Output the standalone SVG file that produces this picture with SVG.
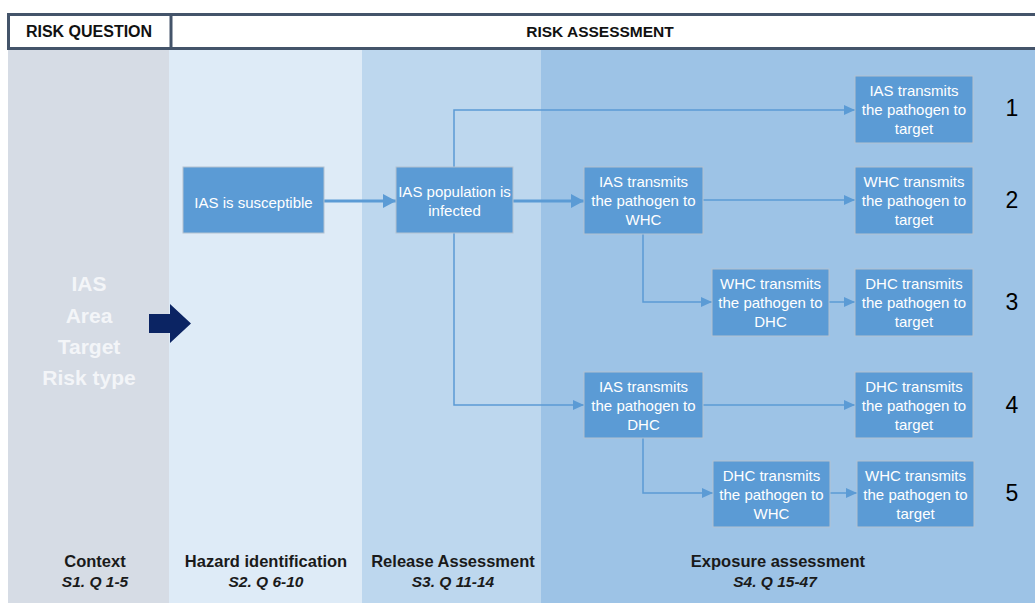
<svg xmlns="http://www.w3.org/2000/svg" width="1035" height="603" viewBox="0 0 1035 603">
<style>
.node rect{fill:#5b9bd5;stroke:#b4c2d0;stroke-width:1}
.node text{font-family:"Liberation Sans",Arial,sans-serif;font-size:15px;fill:#ffffff;text-anchor:middle}
.hdr{font-family:"Liberation Sans",Arial,sans-serif;font-weight:bold;fill:#111;text-anchor:middle}
.lbl{font-family:"Liberation Sans",Arial,sans-serif;font-weight:bold;font-size:16.5px;fill:#1a1a1a;text-anchor:middle}
.sub{font-family:"Liberation Sans",Arial,sans-serif;font-weight:bold;font-style:italic;font-size:15.5px;fill:#1a1a1a;text-anchor:middle}
.num{font-family:"Liberation Sans",Arial,sans-serif;font-size:23px;fill:#000;text-anchor:middle}
.big{font-family:"Liberation Sans",Arial,sans-serif;font-weight:bold;font-size:21px;fill:#f3f5f8;text-anchor:middle}
.thin{fill:none;stroke:#5b9bd5;stroke-width:1.5;marker-end:url(#ah)}
.thick{fill:none;stroke:#5b9bd5;stroke-width:3;marker-end:url(#ahb)}
</style>
<defs>
<marker id="ah" markerUnits="userSpaceOnUse" markerWidth="12" markerHeight="10" refX="11" refY="5" orient="auto"><path d="M0,0 L11,5 L0,10 Z" fill="#5b9bd5"/></marker>
<marker id="ahb" markerUnits="userSpaceOnUse" markerWidth="14" markerHeight="14" refX="13" refY="7" orient="auto"><path d="M0,0 L13,7 L0,14 Z" fill="#5b9bd5"/></marker>
</defs>
<rect width="1035" height="603" fill="#ffffff"/>
<g id="columns">
<rect x="8" y="50" width="161" height="553" fill="#d6dce5"/>
<rect x="169" y="50" width="193" height="553" fill="#deebf7"/>
<rect x="362" y="50" width="179" height="553" fill="#bdd7ee"/>
<rect x="541" y="50" width="494" height="553" fill="#9dc3e6"/>
</g>
<g id="header">
<rect x="8.5" y="14.5" width="1030" height="34" fill="#ffffff" stroke="#44546a" stroke-width="3"/>
<line x1="171" y1="14" x2="171" y2="49" stroke="#44546a" stroke-width="3"/>
<text class="hdr" x="89" y="37" font-size="16">RISK QUESTION</text>
<text class="hdr" x="600" y="37" font-size="15.5">RISK ASSESSMENT</text>
</g>
<g id="context">
<text class="big" x="89" y="291">IAS</text>
<text class="big" x="89" y="323">Area</text>
<text class="big" x="89" y="354">Target</text>
<text class="big" x="89" y="385">Risk type</text>
<path d="M149,314 H170 V304 L191,323.5 L170,343 V333 H149 Z" fill="#0b2463"/>
</g>
<g id="stage-labels">
<text class="lbl" x="95" y="567">Context</text>
<text class="sub" x="95" y="587">S1. Q 1-5</text>
<text class="lbl" x="266" y="567">Hazard identification</text>
<text class="sub" x="266" y="587">S2. Q 6-10</text>
<text class="lbl" x="453" y="567">Release Assessment</text>
<text class="sub" x="453" y="587">S3. Q 11-14</text>
<text class="lbl" x="778" y="567">Exposure assessment</text>
<text class="sub" x="775" y="587">S4. Q 15-47</text>
</g>
<g id="connectors">
<path class="thick" d="M324,201 H396"/>
<path class="thick" d="M513,201 H584"/>
<path class="thin" d="M454,167 V110 H855"/>
<path class="thin" d="M454,233 V405 H584"/>
<path class="thin" d="M703,200 H855"/>
<path class="thin" d="M643,234 V302 H712"/>
<path class="thin" d="M829,302 H855"/>
<path class="thin" d="M703,405 H855"/>
<path class="thin" d="M643,438 V493 H713"/>
<path class="thin" d="M830,493 H857"/>
</g>
<g id="n-susceptible" class="node"><rect x="183" y="167" width="141" height="66"/><text x="253.5" y="208">IAS is susceptible</text></g>
<g id="n-infected" class="node"><rect x="396" y="167" width="117" height="66"/><text x="454.5" y="197">IAS population is</text><text x="454.5" y="216">infected</text></g>
<g id="n-ias-target" class="node"><rect x="855" y="76" width="118" height="67"/><text x="914" y="96">IAS transmits</text><text x="914" y="115">the pathogen to</text><text x="914" y="134">target</text></g>
<g id="n-ias-whc" class="node"><rect x="584" y="167" width="119" height="67"/><text x="643.5" y="187">IAS transmits</text><text x="643.5" y="206">the pathogen to</text><text x="643.5" y="225">WHC</text></g>
<g id="n-whc-target" class="node"><rect x="855" y="167" width="118" height="67"/><text x="914" y="187">WHC transmits</text><text x="914" y="206">the pathogen to</text><text x="914" y="225">target</text></g>
<g id="n-whc-dhc" class="node"><rect x="712" y="269" width="117" height="67"/><text x="770.5" y="289">WHC transmits</text><text x="770.5" y="308">the pathogen to</text><text x="770.5" y="327">DHC</text></g>
<g id="n-dhc-target-3" class="node"><rect x="855" y="269" width="118" height="67"/><text x="914" y="289">DHC transmits</text><text x="914" y="308">the pathogen to</text><text x="914" y="327">target</text></g>
<g id="n-ias-dhc" class="node"><rect x="584" y="372" width="119" height="66"/><text x="643.5" y="392">IAS transmits</text><text x="643.5" y="411">the pathogen to</text><text x="643.5" y="430">DHC</text></g>
<g id="n-dhc-target-4" class="node"><rect x="855" y="372" width="118" height="66"/><text x="914" y="392">DHC transmits</text><text x="914" y="411">the pathogen to</text><text x="914" y="430">target</text></g>
<g id="n-dhc-whc" class="node"><rect x="713" y="461" width="117" height="66"/><text x="771.5" y="481">DHC transmits</text><text x="771.5" y="500">the pathogen to</text><text x="771.5" y="519">WHC</text></g>
<g id="n-whc-target-5" class="node"><rect x="857" y="461" width="117" height="66"/><text x="915.5" y="481">WHC transmits</text><text x="915.5" y="500">the pathogen to</text><text x="915.5" y="519">target</text></g>
<g id="numbers">
<text class="num" x="1012" y="116">1</text>
<text class="num" x="1012" y="208">2</text>
<text class="num" x="1012" y="310">3</text>
<text class="num" x="1012" y="413">4</text>
<text class="num" x="1012" y="501">5</text>
</g>
</svg>
